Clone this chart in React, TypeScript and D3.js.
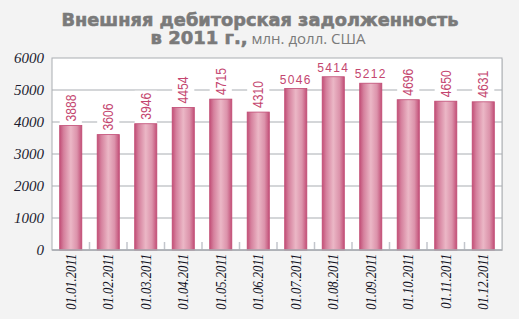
import React, { useEffect, useRef } from "react";
import * as d3 from "d3";

const categories = ["01.01.2011","01.02.2011","01.03.2011","01.04.2011","01.05.2011","01.06.2011","01.07.2011","01.08.2011","01.09.2011","01.10.2011","01.11.2011","01.12.2011"];
const values = [3888, 3606, 3946, 4454, 4715, 4310, 5046, 5414, 5212, 4696, 4650, 4631];
const yTicks = [0, 1000, 2000, 3000, 4000, 5000, 6000];
const titleLine1 = "Внешняя дебиторская задолженность";
const titleBold2 = "в 2011 г.,";
const titleRegular2 = " млн. долл. США";

const W = 519, H = 319;
const plot = { left: 52, right: 502, top: 58, bottom: 250 };

export default function App() {
  const ref = useRef<SVGGElement>(null);
  const x = d3.scaleBand<string>().domain(categories).range([plot.left, plot.right]).paddingInner(0.41).paddingOuter(0.205);
  const y = d3.scaleLinear().domain([0, 6000]).range([plot.bottom, plot.top]);
  const step = x.step();
  const bw = x.bandwidth();
  const labelLen = 27;

  useEffect(() => {
    const g = d3.select(ref.current);
    g.selectAll("*").remove();
    categories.forEach((c, i) => {
      const bx = x(c) as number;
      const top = y(values[i]);
      const cx = bx + bw / 2;
      const vertical = top - 4 - labelLen >= plot.top;
      if (vertical) {
        g.append("text")
          .attr("transform", `translate(${cx + 5},${top - 4}) rotate(-90)`)
          .attr("font-family", "Liberation Sans")
          .attr("font-size", 15)
          .attr("fill", "#c4466f")
          .attr("textLength", labelLen)
          .attr("lengthAdjust", "spacingAndGlyphs")
          .text(String(values[i]));
      } else {
        g.append("text")
          .attr("x", cx).attr("y", top - 5)
          .attr("text-anchor", "middle")
          .attr("font-family", "Liberation Sans")
          .attr("font-size", 12)
          .attr("letter-spacing", 1.3)
          .attr("fill", "#c4466f")
          .text(String(values[i]));
      }
    });
  }, []);

  return (
    <svg width={W} height={H} style={{ position: "absolute", left: 0, top: 0 }}>
      <defs>
        <linearGradient id="barGrad" x1="0" x2="1" y1="0" y2="0">
          <stop offset="0%" stopColor="#c24f77" />
          <stop offset="18%" stopColor="#d5809d" />
          <stop offset="50%" stopColor="#ebb7c6" />
          <stop offset="78%" stopColor="#dc93ab" />
          <stop offset="100%" stopColor="#c24f77" />
        </linearGradient>
      </defs>
      <rect x={0} y={0} width={W} height={H} fill="#f3f3f3" />
      <text x={260} y={26} textAnchor="middle" fontFamily="DejaVu Sans" fontWeight="bold" fontSize={18} fill="#7a7a7a" stroke="#7a7a7a" strokeWidth={0.6} textLength={397} lengthAdjust="spacingAndGlyphs">{titleLine1}</text>
      <text x={258} y={44} textAnchor="middle" fontFamily="DejaVu Sans" fill="#7a7a7a">
        <tspan fontWeight="bold" fontSize={18} stroke="#7a7a7a" strokeWidth={0.6}>{titleBold2}</tspan>
        <tspan fontSize={15} fontFamily="Open Sans">{titleRegular2}</tspan>
      </text>
      <rect x={plot.left + 1} y={plot.top + 1} width={plot.right - plot.left} height={plot.bottom - plot.top} fill="#d8d8d8" />
      <rect x={plot.left} y={plot.top} width={plot.right - plot.left} height={plot.bottom - plot.top} fill="#ffffff" stroke="#a9adb2" strokeWidth={1} />
      {yTicks.filter(t => t > 0 && t < 6000).map(t => (
        <line key={t} x1={plot.left} x2={plot.right} y1={y(t)} y2={y(t)} stroke="#a9adb2" strokeWidth={1} />
      ))}
      {categories.slice(1).map((c) => {
        const bx = (x(c) as number) - (step - bw) / 2;
        return <line key={"tk" + c} x1={bx} x2={bx} y1={plot.bottom - 8} y2={plot.bottom} stroke="#c3c6cc" strokeWidth={1.5} />;
      })}
      {categories.map((c, i) => {
        const bx = x(c) as number;
        const top = y(values[i]);
        const vertical = top - 4 - labelLen >= plot.top;
        return (
          <g key={c}>
            {vertical && <rect x={bx} y={top - 6 - labelLen} width={bw} height={6 + labelLen} fill="#ffffff" />}
            <rect x={bx} y={top} width={bw} height={plot.bottom - top} fill="url(#barGrad)" stroke="#c04a73" strokeWidth={0.8} />
          </g>
        );
      })}
      <g ref={ref} />
      <line x1={plot.left} x2={plot.right} y1={plot.bottom} y2={plot.bottom} stroke="#a9adb2" strokeWidth={1.5} />
      {yTicks.map(t => (
        <text key={"y" + t} x={44} y={y(t) + 5} textAnchor="end" fontFamily="Liberation Serif" fontStyle="italic" fontSize={15} fill="#1c1c30">{t}</text>
      ))}
      {categories.map(c => {
        const cx = (x(c) as number) + bw / 2;
        return (
          <g key={"x" + c} transform={`translate(${cx + 5},${plot.bottom + 4}) rotate(-90) scale(0.84,1)`}>
            <text x={0} y={0} textAnchor="end" fontFamily="Liberation Serif" fontStyle="italic" fontSize={15} fill="#111122">{c}</text>
          </g>
        );
      })}
    </svg>
  );
}
